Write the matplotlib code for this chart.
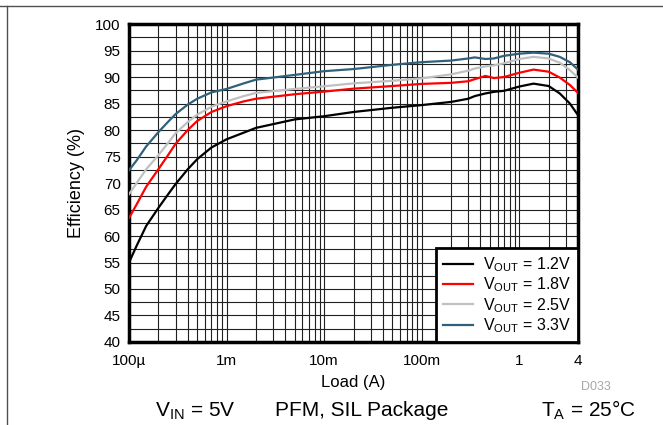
import numpy as np
import matplotlib
matplotlib.use("Agg")
import matplotlib.pyplot as plt
from matplotlib.ticker import FixedLocator, MultipleLocator, LogLocator, NullFormatter
from matplotlib.lines import Line2D

plt.rcParams['font.family'] = ['Liberation Sans', 'DejaVu Sans']
plt.rcParams['mathtext.default'] = 'regular'

# load current (A), shared by all curves
load = [1e-4, 1.2e-4, 1.5e-4, 2e-4, 2.5e-4, 3e-4, 4e-4, 5e-4, 7e-4, 1e-3, 1.5e-3, 2e-3,
        5e-3, 1e-2, 2e-2, 5e-2, 0.1, 0.2, 0.3, 0.35, 0.45, 0.55, 0.7, 1.0, 1.4, 2.0,
        2.6, 3.3, 4.0]

eff_1v2 = [55.0, 58.2, 61.9, 65.3, 67.8, 69.8, 72.6, 74.5, 76.7, 78.25, 79.5, 80.4,
           82.0, 82.6, 83.4, 84.2, 84.7, 85.3, 85.9, 86.4, 86.9, 87.2, 87.4, 88.2,
           88.75, 88.3, 86.9, 85.0, 82.8]
eff_1v8 = [63.4, 66.0, 69.3, 72.6, 75.2, 77.4, 80.0, 81.7, 83.4, 84.5, 85.4, 85.9,
           86.75, 87.25, 87.8, 88.3, 88.7, 88.9, 89.2, 89.6, 90.2, 89.8, 90.0, 90.8,
           91.4, 91.0, 89.9, 88.5, 87.0]
eff_2v5 = [67.9, 70.0, 72.6, 75.25, 77.5, 79.4, 81.5, 82.9, 84.4, 85.4, 86.4, 87.0,
           87.75, 88.25, 88.8, 89.3, 89.75, 90.5, 91.2, 91.6, 92.0, 92.2, 92.6, 93.4,
           93.8, 93.5, 92.7, 91.3, 89.9]
eff_3v3 = [72.4, 74.3, 76.9, 79.6, 81.5, 83.0, 84.8, 85.9, 87.1, 87.75, 88.8, 89.5,
           90.4, 91.1, 91.5, 92.3, 92.8, 93.1, 93.5, 93.7, 93.4, 93.5, 94.0, 94.4,
           94.6, 94.4, 93.8, 92.8, 91.4]

series_labels = [r'V$_{OUT}$ = 1.2V', r'V$_{OUT}$ = 1.8V',
                 r'V$_{OUT}$ = 2.5V', r'V$_{OUT}$ = 3.3V']
series_colors = ['#000000', '#FF0000', '#C0C0C0', '#30607A']

xtick_pos = [1e-4, 1e-3, 1e-2, 1e-1, 1, 4]
xtick_labels = ['100µ', '1m', '10m', '100m', '1', '4']

fig = plt.figure(figsize=(6.63, 4.25), dpi=100)
ax = fig.add_axes([0.1946, 0.1953, 0.8718 - 0.1946, 0.9435 - 0.1953])

for y, lab, c in zip([eff_1v2, eff_1v8, eff_2v5, eff_3v3], series_labels, series_colors):
    ax.plot(load, y, color=c, lw=1.6, label=lab, zorder=3)

ax.set_xscale('log')
ax.set_xlim(1e-4, 4)
ax.set_ylim(40, 100)

ax.xaxis.set_major_locator(FixedLocator(xtick_pos))
ax.set_xticklabels(xtick_labels)
ax.xaxis.set_minor_locator(LogLocator(base=10, subs=np.arange(2, 10)))
ax.xaxis.set_minor_formatter(NullFormatter())
ax.yaxis.set_major_locator(MultipleLocator(5))
ax.yaxis.set_minor_locator(MultipleLocator(2.5))

ax.grid(True, which='both', color='#202020', lw=0.8)
ax.tick_params(which='both', length=0, labelsize=11)
ax.tick_params(axis='y', pad=6)
ax.tick_params(axis='x', pad=9)
for s in ax.spines.values():
    s.set_linewidth(2.5)
    s.set_color('black')

ax.set_xlabel('Load (A)', fontsize=12, labelpad=5)
ax.set_ylabel('Efficiency (%)', fontsize=13, labelpad=7)

leg = ax.legend(loc='lower right', borderaxespad=0, fancybox=False,
                edgecolor='black', framealpha=1, fontsize=11.5,
                handlelength=1.9, handletextpad=0.6, labelspacing=0.1,
                borderpad=0.45)
leg.get_frame().set_linewidth(2)

fig.text(0.877, 0.083, 'D033', color='#A8A8A8', fontsize=9)
fig.text(0.234, 0.02, r'V$_{IN}$ = 5V', fontsize=15)
fig.text(0.545, 0.02, 'PFM, SIL Package', fontsize=15, ha='center')
fig.text(0.816, 0.02, r'T$_{A}$ = 25°C', fontsize=15)

# datasheet frame lines (top and left)
fig.add_artist(Line2D([0, 1], [0.985, 0.985], transform=fig.transFigure, color='#505050', lw=1))
fig.add_artist(Line2D([0.011, 0.011], [0, 0.985], transform=fig.transFigure, color='#505050', lw=1))

fig.savefig('out.png', dpi=100)
